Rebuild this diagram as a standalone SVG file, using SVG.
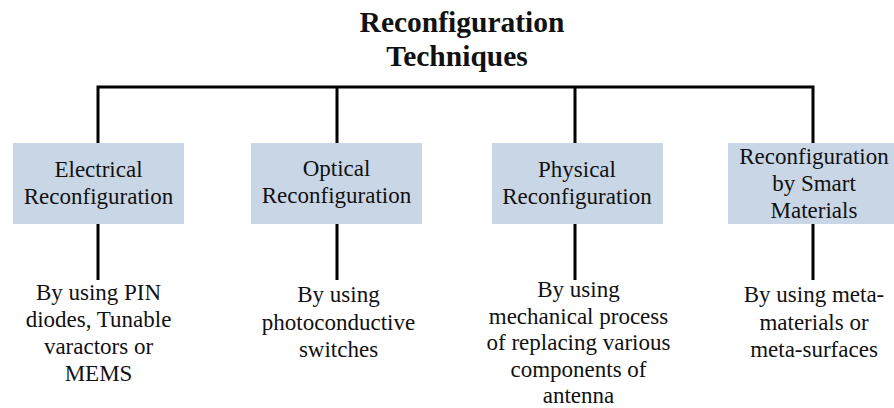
<svg xmlns="http://www.w3.org/2000/svg" width="894" height="408" viewBox="0 0 894 408">
<style>
text{font-family:'Liberation Serif','Times New Roman',Times,serif;fill:#111;text-anchor:middle}
.t{font-size:23px}
.title{font-size:29.5px;font-weight:bold}
.box{fill:#c9d6e5}
.ln{stroke:#000;stroke-width:3;fill:none}
</style>
<rect width="894" height="408" fill="#fff"/>
<g id="title">
<text class="title" x="462" y="32">Reconfiguration</text>
<text class="title" x="457" y="66">Techniques</text>
</g>
<g id="connectors">
<path class="ln" d="M98 88.5V87H813V143M98 87V143M337 87V143M575 87V143"/>
<path class="ln" d="M98 224V280M337 224V280M575 224V280M813 224V280"/>
</g>
<g id="electrical">
<rect class="box" x="13" y="143" width="171" height="81"/>
<text class="t" x="98.5" y="177">Electrical</text>
<text class="t" x="98.5" y="204">Reconfiguration</text>
</g>
<g id="optical">
<rect class="box" x="251" y="143" width="171" height="81"/>
<text class="t" x="336.5" y="176">Optical</text>
<text class="t" x="336.5" y="203">Reconfiguration</text>
</g>
<g id="physical">
<rect class="box" x="492" y="143" width="171" height="81"/>
<text class="t" x="577" y="177">Physical</text>
<text class="t" x="577" y="204">Reconfiguration</text>
</g>
<g id="smart">
<rect class="box" x="728" y="143" width="171" height="81"/>
<text class="t" x="814" y="164">Reconfiguration</text>
<text class="t" x="814" y="191">by Smart</text>
<text class="t" x="814" y="218">Materials</text>
</g>
<g id="electrical-desc">
<text class="t" x="98.5" y="300">By using PIN</text>
<text class="t" x="98.5" y="327">diodes, Tunable</text>
<text class="t" x="98.5" y="354">varactors or</text>
<text class="t" x="98.5" y="381">MEMS</text>
</g>
<g id="optical-desc">
<text class="t" x="338.5" y="302">By using</text>
<text class="t" x="338.5" y="330">photoconductive</text>
<text class="t" x="338.5" y="357">switches</text>
</g>
<g id="physical-desc">
<text class="t" x="578.5" y="297">By using</text>
<text class="t" x="578.5" y="323.5">mechanical process</text>
<text class="t" x="578.5" y="350">of replacing various</text>
<text class="t" x="578.5" y="376.5">components of</text>
<text class="t" x="578.5" y="403">antenna</text>
</g>
<g id="smart-desc">
<text class="t" x="814" y="302">By using meta-</text>
<text class="t" x="814" y="330">materials or</text>
<text class="t" x="814" y="357">meta-surfaces</text>
</g>
</svg>
